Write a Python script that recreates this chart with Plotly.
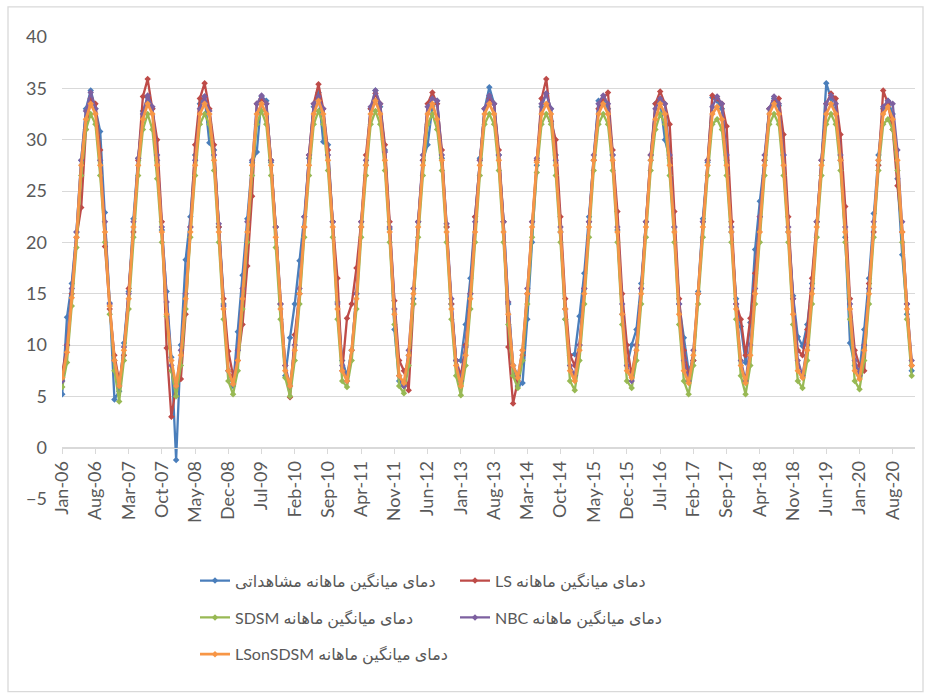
import pandas as pd
import plotly.graph_objects as go

# Monthly axis labels, Jan-2006 .. Dec-2020
months = pd.date_range("2006-01-01", periods=180, freq="MS").strftime("%b-%y").tolist()
tick_step = 7

# Mean monthly temperature (°C), one row per year Jan..Dec
observed = [
    5.2, 12.7, 16.0, 21.0, 28.0, 33.0, 34.8, 33.0, 30.8, 22.9, 14.1, 4.7,
    5.5, 10.2, 15.2, 22.3, 28.2, 32.8, 34.1, 33.0, 28.0, 21.2, 15.2, 8.8,
    -1.2, 10.0, 18.3, 22.5, 28.5, 33.5, 34.2, 29.7, 29.0, 21.5, 14.0, 7.5,
    6.0, 11.3, 16.8, 22.3, 27.8, 28.8, 34.2, 33.8, 27.8, 21.5, 14.0, 7.0,
    10.7, 14.0, 18.2, 22.5, 28.2, 33.2, 34.6, 29.8, 29.5, 22.0, 14.2, 8.5,
    7.0, 9.5, 15.0, 21.5, 27.5, 33.0, 34.8, 33.2, 29.0, 21.3, 11.5, 6.5,
    6.0, 9.0, 14.5, 22.0, 28.0, 29.5, 33.2, 33.8, 28.2, 21.5, 14.0, 8.5,
    8.5, 12.0, 16.5, 22.5, 28.2, 33.0, 35.1, 33.5, 28.5, 22.0, 14.0, 8.0,
    6.0, 6.3, 12.5, 20.0, 27.5, 33.2, 34.5, 33.0, 28.5, 21.0, 12.5, 9.0,
    9.1, 12.8, 17.0, 22.5, 28.0, 33.8, 34.0, 33.0, 28.5, 21.2, 13.0, 8.0,
    10.0, 11.5, 16.0, 22.0, 28.0, 33.5, 33.8, 30.0, 28.2, 21.5, 14.0, 10.7,
    7.5, 8.5, 15.2, 22.3, 27.8, 34.1, 33.8, 33.0, 28.0, 21.0, 14.5, 11.8,
    8.3, 12.2, 19.3, 24.0, 28.0, 33.0, 34.0, 33.3, 28.5, 21.0, 14.8, 10.8,
    9.9, 12.0, 16.0, 22.0, 28.0, 35.5, 34.0, 32.5, 28.0, 20.5, 10.2, 8.0,
    7.5, 11.5, 16.5, 22.8, 28.5, 33.0, 33.8, 32.5, 26.2, 18.8, 13.0, 7.5,
]

ls = [
    7.3, 10.0, 15.0, 20.5, 23.4, 31.0, 34.0, 33.5, 29.0, 19.6, 13.5, 9.0,
    6.5, 9.0, 15.5, 21.0, 28.0, 34.2, 35.9, 33.0, 30.0, 22.0, 9.7, 3.0,
    6.0, 6.7, 13.0, 21.5, 29.5, 34.0, 35.5, 33.0, 29.5, 21.5, 14.5, 9.4,
    7.0, 8.5, 12.0, 17.7, 24.5, 33.5, 34.0, 33.5, 28.0, 21.5, 14.0, 8.0,
    4.9, 11.0, 15.0, 21.5, 28.5, 33.5, 35.4, 33.0, 29.0, 22.0, 16.5, 7.5,
    12.6, 14.0, 17.5, 22.0, 28.5, 33.0, 34.5, 33.5, 29.5, 22.0, 14.3, 8.5,
    7.5, 5.6, 14.0, 22.0, 28.0, 33.5, 34.6, 33.5, 29.0, 21.5, 14.0, 8.5,
    7.0, 10.0, 15.0, 22.5, 28.0, 33.0, 34.0, 33.5, 29.0, 22.0, 9.8, 4.3,
    6.5, 9.0, 15.0, 22.0, 28.0, 34.0, 35.9, 31.8, 30.0, 22.5, 14.5, 9.0,
    8.0, 10.0, 15.5, 22.0, 28.0, 33.0, 34.0, 34.6, 29.0, 23.0, 15.0, 10.0,
    7.0, 10.0, 15.5, 22.0, 28.5, 33.5, 34.7, 33.5, 31.5, 23.0, 14.5, 9.5,
    7.0, 8.5, 15.0, 22.0, 28.0, 34.3, 34.0, 33.5, 31.3, 22.0, 14.0, 12.5,
    9.0, 12.6, 17.0, 22.5, 28.0, 33.0, 33.8, 34.0, 30.5, 22.5, 14.5, 9.5,
    9.0, 11.5, 16.5, 22.0, 28.0, 33.5, 34.5, 34.0, 30.5, 23.5, 14.5, 9.5,
    8.0, 7.5, 16.0, 21.0, 27.5, 34.8, 33.5, 31.0, 25.5, 21.0, 14.0, 8.0,
]

sdsm = [
    5.9, 8.3, 13.8, 19.5, 26.5, 31.0, 32.5, 31.5, 26.5, 20.0, 13.0, 7.5,
    4.5, 8.5, 13.5, 20.5, 26.5, 31.0, 32.5, 31.0, 26.2, 20.0, 12.8, 7.5,
    5.0, 8.0, 13.5, 20.5, 26.5, 31.5, 32.5, 31.5, 27.0, 20.0, 12.5, 6.5,
    5.2, 7.5, 13.5, 20.0, 26.5, 31.5, 32.8, 31.5, 26.5, 19.5, 12.5, 6.8,
    5.0, 8.5, 14.0, 20.5, 26.5, 31.5, 32.8, 31.5, 27.0, 20.5, 12.5, 6.5,
    5.9, 8.5, 13.5, 20.5, 26.5, 31.5, 32.8, 31.5, 27.0, 20.0, 12.0, 6.0,
    5.3, 8.0, 14.0, 20.5, 26.5, 31.5, 32.5, 31.0, 27.0, 20.0, 12.5, 7.0,
    5.1, 8.0, 13.5, 20.0, 26.5, 31.5, 32.5, 31.5, 27.0, 20.0, 12.0, 7.0,
    5.8, 8.5, 14.0, 20.5, 26.8, 31.5, 32.5, 31.5, 26.5, 20.0, 12.5, 6.5,
    5.6, 8.5, 14.0, 20.5, 27.0, 31.5, 32.5, 31.5, 27.0, 20.0, 12.0, 6.5,
    5.8, 8.5, 14.0, 20.5, 27.0, 31.0, 32.5, 31.5, 26.5, 20.0, 12.0, 6.5,
    5.2, 8.0, 14.0, 20.5, 26.5, 31.5, 32.0, 31.0, 26.5, 20.0, 12.5, 7.0,
    5.2, 8.0, 14.0, 20.0, 26.5, 31.5, 32.5, 31.5, 26.5, 20.0, 12.0, 6.5,
    5.8, 8.5, 14.0, 20.5, 26.5, 31.5, 32.5, 31.5, 27.0, 20.0, 12.5, 6.5,
    5.7, 8.5, 14.0, 20.5, 27.0, 31.5, 32.0, 31.0, 27.0, 20.0, 12.5, 7.0,
]

nbc = [
    6.5, 10.0, 15.5, 21.0, 28.0, 32.8, 34.6, 33.0, 28.0, 22.0, 14.0, 8.5,
    6.0, 9.8, 15.0, 22.0, 28.2, 32.5, 34.3, 33.2, 28.5, 21.5, 14.2, 8.0,
    6.0, 9.5, 15.0, 21.5, 28.0, 33.0, 34.2, 32.8, 28.5, 21.8, 13.8, 7.5,
    6.2, 9.5, 15.5, 22.0, 28.0, 33.5, 34.3, 33.5, 28.0, 21.5, 14.0, 8.0,
    6.0, 10.0, 15.5, 22.5, 28.5, 33.5, 34.2, 33.0, 28.5, 22.0, 14.0, 8.0,
    6.5, 9.5, 15.0, 22.0, 28.0, 33.2, 34.8, 33.5, 28.8, 21.5, 13.5, 7.0,
    6.0, 9.5, 15.5, 22.0, 28.5, 33.2, 34.0, 33.8, 28.5, 21.8, 14.5, 8.5,
    6.5, 9.8, 15.0, 22.0, 28.0, 33.0, 34.3, 33.5, 28.5, 22.0, 14.2, 8.0,
    7.0, 9.5, 15.5, 22.0, 28.2, 33.5, 34.5, 33.0, 28.0, 21.5, 13.5, 8.0,
    7.0, 10.0, 15.5, 22.0, 28.5, 33.5, 34.3, 33.5, 28.5, 21.5, 14.0, 8.0,
    6.5, 10.0, 15.5, 22.0, 28.5, 33.0, 34.0, 33.5, 28.5, 21.5, 14.0, 8.5,
    6.5, 9.5, 15.0, 22.0, 28.0, 33.2, 34.2, 33.5, 28.5, 21.5, 14.0, 8.5,
    6.5, 10.0, 15.5, 22.5, 28.5, 33.0, 34.2, 33.5, 28.5, 21.5, 14.5, 8.5,
    7.0, 10.0, 15.5, 22.0, 28.0, 33.5, 34.3, 33.5, 28.5, 21.5, 14.0, 8.5,
    7.0, 10.0, 15.5, 22.0, 28.0, 33.2, 33.8, 33.5, 29.0, 22.0, 14.0, 8.5,
]

ls_on_sdsm = [
    6.8, 9.3, 14.6, 20.5, 27.5, 32.0, 33.5, 32.5, 27.5, 21.0, 13.8, 8.5,
    6.0, 9.5, 14.5, 21.5, 27.5, 32.0, 33.5, 32.5, 27.5, 21.0, 13.0, 8.5,
    6.0, 9.0, 14.5, 21.0, 27.5, 32.5, 33.5, 32.5, 28.0, 21.0, 13.5, 7.5,
    6.2, 8.5, 14.5, 21.0, 27.5, 32.5, 33.5, 32.5, 27.5, 20.5, 13.5, 7.5,
    6.0, 9.5, 15.0, 21.5, 27.5, 32.5, 33.8, 32.5, 28.0, 21.5, 13.5, 7.5,
    6.5, 9.5, 14.5, 21.5, 27.5, 32.5, 33.8, 32.5, 28.0, 21.0, 13.0, 7.0,
    6.3, 9.0, 15.0, 21.5, 27.5, 32.5, 33.5, 32.0, 28.0, 21.0, 13.5, 8.0,
    6.0, 9.0, 14.5, 21.0, 27.5, 32.5, 33.5, 32.5, 28.0, 21.0, 13.0, 8.0,
    6.8, 9.5, 15.0, 21.5, 27.8, 32.5, 33.5, 32.5, 27.5, 21.0, 13.5, 7.5,
    6.5, 9.5, 15.0, 21.5, 28.0, 32.5, 33.5, 32.5, 28.0, 21.0, 13.0, 7.5,
    6.8, 9.5, 15.0, 21.5, 28.0, 32.0, 33.5, 32.5, 27.5, 21.0, 13.0, 7.5,
    6.3, 9.0, 15.0, 21.5, 27.5, 32.5, 33.2, 32.0, 27.5, 21.0, 13.5, 8.0,
    6.3, 9.0, 15.0, 21.0, 27.5, 32.5, 33.5, 32.5, 27.5, 21.0, 13.0, 7.5,
    6.8, 9.5, 15.0, 21.5, 27.5, 32.5, 33.5, 32.5, 28.0, 21.0, 13.5, 7.5,
    6.7, 9.5, 15.0, 21.5, 28.0, 32.5, 33.2, 32.0, 28.0, 21.0, 13.5, 8.0,
]

RLE, PDF = "\u202b", "\u202c"
series = [
    ("دمای میانگین ماهانه مشاهداتی", observed, "#4A7EBB", "legend", 2.3),
    ("دمای میانگین ماهانه LS", ls, "#BE4B48", "legend2", 2.3),
    ("دمای میانگین ماهانه SDSM", sdsm, "#98B954", "legend", 2.3),
    ("دمای میانگین ماهانه NBC", nbc, "#7D60A0", "legend2", 2.3),
    ("دمای میانگین ماهانه LSonSDSM", ls_on_sdsm, "#F79646", "legend", 2.8),
]

x = list(range(len(months)))
fig = go.Figure()
for i, (name, vals, color, leg, width) in enumerate(series):
    fig.add_trace(go.Scatter(
        x=x, y=vals, mode="lines+markers",
        name=RLE + name + PDF,
        line=dict(color=color, width=width),
        marker=dict(symbol="diamond", size=5, color=color),
        legend=leg, legendgroup=f"g{i}",
    ))

font_main = "Lato, 'DejaVu Sans', sans-serif"
grid = "#D9D9D9"
text_col = "#595959"

fig.update_layout(
    width=926, height=697,
    margin=dict(l=62, r=11, t=37, b=198),
    paper_bgcolor="white", plot_bgcolor="white",
    font=dict(family=font_main, color=text_col),
    xaxis=dict(
        range=[-0.05, 179.7],
        tickmode="array",
        tickvals=x[::tick_step],
        ticktext=months[::tick_step],
        tickangle=-90,
        tickfont=dict(size=18, color=text_col),
        showgrid=False, zeroline=False,
        showline=True, linecolor=grid, linewidth=1.3,
        ticks="outside", ticklen=5, tickcolor=grid,
        anchor="free", position=5 / 45,
    ),
    yaxis=dict(
        range=[-5, 40], dtick=5,
        tickfont=dict(size=18, color=text_col),
        showgrid=True, gridcolor=grid, gridwidth=1.3,
        zeroline=False, showline=False, ticks="",
        ticklabelstandoff=14,
    ),
    legend=dict(
        orientation="v", x=(195 - 62) / 853, y=-0.14,
        xanchor="left", yanchor="top",
        font=dict(size=16, color=text_col, family=font_main),
        tracegroupgap=13, bgcolor="rgba(0,0,0,0)",
    ),
    legend2=dict(
        orientation="v", x=(455 - 62) / 853, y=-0.14,
        xanchor="left", yanchor="top",
        font=dict(size=16, color=text_col, family=font_main),
        tracegroupgap=13, bgcolor="rgba(0,0,0,0)",
    ),
    shapes=[dict(
        type="rect", xref="paper", yref="paper",
        x0=(8 - 62) / 853, x1=(923 - 62) / 853,
        y0=(498.5 - 691) / 461.5, y1=(498.5 - 7) / 461.5,
        line=dict(color="#D9D9D9", width=1.3), layer="below",
    )],
)

fig.write_html("out.html")
